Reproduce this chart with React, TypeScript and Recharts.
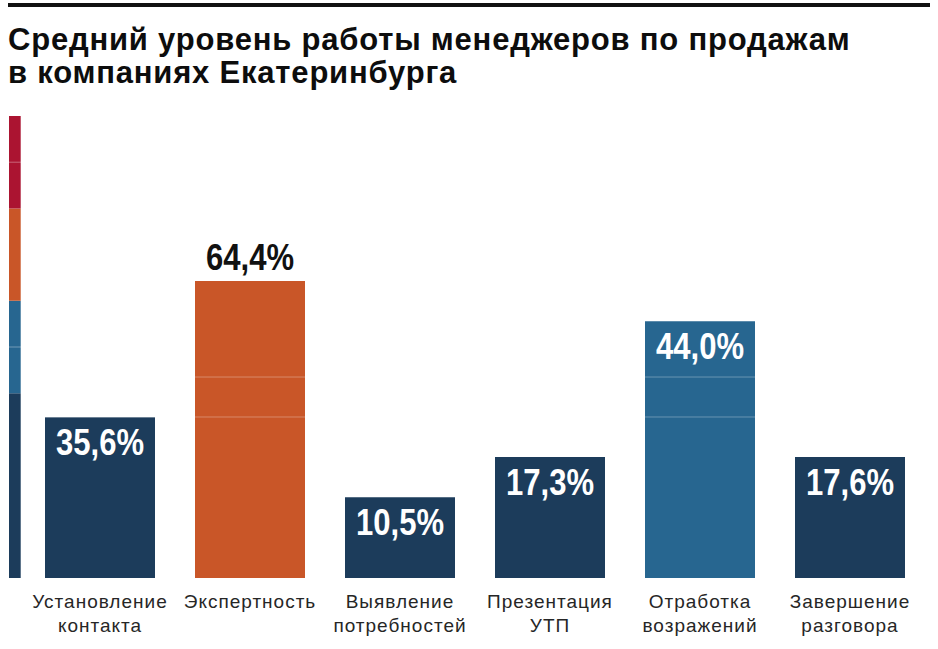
import React from "react";
import {
  BarChart,
  Bar,
  Cell,
  XAxis,
  YAxis,
  LabelList,
  ReferenceLine,
} from "recharts";

// categories (two-line labels split on "\n")
const categories = [
  "Установление\nконтакта",
  "Экспертность",
  "Выявление\nпотребностей",
  "Презентация\nУТП",
  "Отработка\nвозражений",
  "Завершение\nразговора",
];

// printed values, %
const values = [35.6, 64.4, 10.5, 17.3, 44.0, 17.6];

// bar tops as drawn in the original graphic (it is not to scale), % of the 0-100 axis
const drawnHeights = [34.8, 64.3, 17.5, 26.2, 55.6, 26.2];

// level scale on the left: zone sizes (0-40, 40-60, 60-80, 80-100)
const zoneSizes = [40, 20, 20, 20];
const zoneColors = ["#1c3c5b", "#276690", "#c95628", "#ab1431"];

// thin divider lines
const barDividers = [34.85, 43.5];
const scaleDividers = [50, 90];

const data = categories.map((name, i) => ({
  name,
  value: values[i],
  drawn: drawnHeights[i],
}));

const scaleData = [
  {
    name: "scale",
    z0: zoneSizes[0],
    z1: zoneSizes[1],
    z2: zoneSizes[2],
    z3: zoneSizes[3],
  },
];

const zoneColor = (v: number) => {
  let acc = 0;
  for (let i = 0; i < zoneSizes.length; i++) {
    acc += zoneSizes[i];
    if (v < acc) return zoneColors[i];
  }
  return zoneColors[zoneColors.length - 1];
};

const maxValue = Math.max(...values);

const SANS = "'Liberation Sans', Arial, sans-serif";

// condensed look: regular bold face squeezed to a fixed width
const ValueLabel = (props: any) => {
  const { x, y, width, value } = props;
  const cx = x + width / 2;
  const text = Number(value).toFixed(1).replace(".", ",") + "%";
  const outside = value === maxValue;
  return (
    <text
      x={cx}
      y={outside ? y - 11 : y + 38}
      textAnchor="middle"
      fill={outside ? "#111" : "#fff"}
      fontFamily={SANS}
      fontWeight="bold"
      fontSize={37}
      textLength={88}
      lengthAdjust="spacingAndGlyphs"
    >
      {text}
    </text>
  );
};

const CategoryTick = (props: any) => {
  const { x, y, payload } = props;
  const lines = String(payload.value).split("\n");
  return (
    <text
      x={x}
      y={y + 30}
      textAnchor="middle"
      fill="#262626"
      fontFamily={SANS}
      fontSize={19}
      letterSpacing={1}
    >
      {lines.map((line, i) => (
        <tspan key={i} x={x} dy={i === 0 ? 0 : 24}>
          {line}
        </tspan>
      ))}
    </text>
  );
};

export default function App() {
  return (
    <div
      style={{
        position: "absolute",
        left: 0,
        top: 0,
        width: 938,
        height: 649,
        background: "#fff",
        overflow: "hidden",
      }}
    >
      {/* top rule */}
      <div
        style={{
          position: "absolute",
          left: 8,
          top: 3,
          width: 922,
          height: 4,
          background: "#111",
        }}
      />

      {/* title */}
      <div
        style={{
          position: "absolute",
          left: 8,
          top: 23,
          fontFamily: SANS,
          fontWeight: "bold",
          fontSize: 31,
          letterSpacing: 0.8,
          lineHeight: "33px",
          color: "#0d0d0d",
          whiteSpace: "nowrap",
        }}
      >
        Средний уровень работы менеджеров по продажам
        <br />в компаниях Екатеринбурга
      </div>

      {/* level scale */}
      <div style={{ position: "absolute", left: 0, top: 0 }}>
        <BarChart
          width={40}
          height={649}
          data={scaleData}
          margin={{ top: 116, bottom: 71, left: 8, right: 19 }}
          barCategoryGap={0}
        >
          <XAxis dataKey="name" hide />
          <YAxis hide domain={[0, 100]} />
          {zoneSizes.map((_, i) => (
            <Bar
              key={i}
              dataKey={`z${i}`}
              stackId="s"
              fill={zoneColors[i]}
              barSize={13}
              isAnimationActive={false}
            />
          ))}
          {scaleDividers.map((v) => (
            <ReferenceLine
              key={v}
              y={v}
              stroke="#ffffff"
              strokeOpacity={0.35}
              strokeWidth={1}
            />
          ))}
        </BarChart>
      </div>

      {/* main chart */}
      <div style={{ position: "absolute", left: 0, top: 0 }}>
        <BarChart
          width={938}
          height={649}
          data={data}
          margin={{ top: 116, bottom: 11, left: 25, right: 13 }}
        >
          <XAxis
            dataKey="name"
            axisLine={false}
            tickLine={false}
            tickSize={0}
            tickMargin={0}
            height={60}
            interval={0}
            tick={<CategoryTick />}
          />
          <YAxis hide domain={[0, 100]} />
          <Bar dataKey="drawn" barSize={110} isAnimationActive={false}>
            {data.map((d, i) => (
              <Cell key={i} fill={zoneColor(d.value)} />
            ))}
            <LabelList dataKey="value" content={<ValueLabel />} />
          </Bar>
          {barDividers.map((v) => (
            <ReferenceLine
              key={v}
              y={v}
              stroke="#ffffff"
              strokeOpacity={0.3}
              strokeWidth={1}
            />
          ))}
        </BarChart>
      </div>
    </div>
  );
}
